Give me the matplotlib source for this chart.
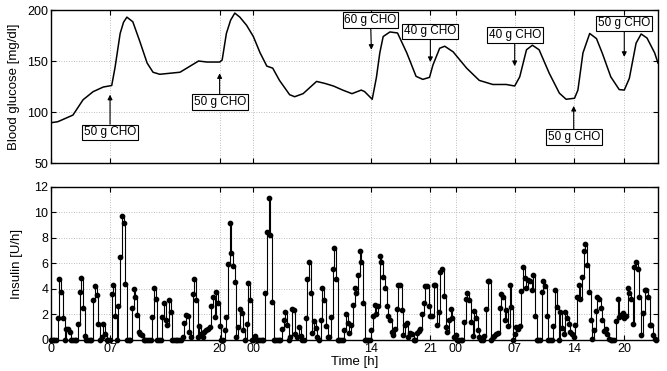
import numpy as np
import matplotlib
matplotlib.use("Agg")
import matplotlib.pyplot as plt

plt.rcParams['font.family'] = ['Liberation Sans', 'DejaVu Sans']

# blood glucose trace (time in h, mg/dl)
bg_t = [0, 0.8, 1.5, 2.6, 3.8, 5.0, 6.2, 7.2, 7.6, 8.2, 8.6, 9.0, 9.7, 10.5, 11.4, 12.1,
        12.9, 15.3, 16.1, 17.5, 18.5, 20.0, 20.3, 20.8, 21.3, 21.8, 22.4, 23.2, 24.0, 24.8,
        25.6, 26.3, 27.1, 28.3, 28.9, 29.9, 31.5, 32.5, 33.5, 34.6, 35.7, 36.8, 37.2, 38.1,
        38.6, 39.0, 39.4, 40.2, 41.1, 42.2, 43.3, 44.1, 44.9, 45.3, 46.1, 46.7, 47.7, 49.3,
        50.8, 52.4, 54.0, 55.0, 55.6, 56.4, 57.1, 57.9, 59.1, 60.3, 61.1, 62.1, 62.5, 63.1,
        63.9, 64.7, 65.4, 66.4, 67.4, 68.0, 68.6, 69.4, 70.0, 70.7, 71.6, 72.0]
bg = [89.5, 90.5, 93, 97, 112, 120, 124.5, 126, 144, 177, 188, 193, 188.5, 170, 148, 139,
      137, 139, 143, 150, 149, 149, 151, 177, 190, 197, 193, 185, 174, 158,
      145, 143, 131, 117, 115, 118, 130, 128, 125.5, 121.5, 118, 121.5, 120, 112.5,
      134, 158, 174, 178.5, 177.5, 158, 135, 132, 134, 146, 162.5, 164.5, 159, 143,
      131, 127, 127, 125.5, 134.5, 161, 165.5, 161, 138, 118.5, 112.5, 113.5, 121.5, 158,
      177, 172, 157.5, 134.5, 122, 121.5, 133, 167.5, 176.5, 172.5, 158, 148]

# meals: label, time of meal, arrow tip level, box position
meal_lbl = ["50 g CHO", "50 g CHO", "60 g CHO", "40 g CHO", "40 g CHO", "50 g CHO", "50 g CHO"]
meal_t = [7, 20, 38, 45, 55, 62, 68]
meal_tip = [117, 138, 161, 149, 145, 106, 154]
meal_box_t = [7, 20, 37.9, 45, 55, 62, 68]
meal_box_y = [80, 110, 190, 179, 175.5, 75.5, 187]

# insulin delivery, one value every 12 min (U/h)
ins_dt = 0.2
insulin = [
    0, 0, 0, 0, 1.7, 4.8, 3.75, 1.7, 0, 0.9, 0.85, 0.6, 0, 0, 0,
    0, 1.25, 3.8, 4.9, 2.5, 0.3, 0, 0, 0, 0, 3.1, 4.2, 3.5, 1.25, 0,
    0.25, 1.25, 0.5, 0, 0, 0, 3.6, 4.3, 1.9, 0, 2.65, 6.5, 9.7, 9.15, 4.4,
    0, 0, 0, 2.5, 4.0, 3.4, 1.95, 0.6, 0.45, 0.4, 0, 0, 0, 0, 0,
    1.8, 4.05, 3.2, 0, 0, 0, 1.8, 2.9, 1.6, 1.2, 3.1, 2.2, 0, 0, 0,
    0, 0, 0, 0.25, 1.3, 1.95, 1.9, 0.65, 0.25, 3.6, 4.8, 3.1, 0.25, 1.1, 0.5,
    0.25, 0.65, 0.8, 0.9, 1.05, 2.7, 3.35, 1.8, 3.75, 2.9, 1.1, 0, 0, 0.8, 1.8,
    5.95, 9.15, 6.85, 5.8, 4.55, 0.2, 1.0, 2.4, 2.15, 0.8, 0, 1.25, 4.5, 3.1, 0,
    0, 0.35, 0, 0, 0, 0, 0, 3.7, 8.5, 11.1, 8.2, 2.95, 0, 0, 0,
    0, 0, 0.85, 1.6, 2.2, 1.2, 0, 0.2, 2.4, 2.35, 0.5, 0.25, 1.0, 0.3, 0,
    0, 1.7, 4.8, 6.15, 3.7, 0.55, 1.45, 0.95, 0.2, 0, 1.6, 4.05, 3.1, 1.1, 0.25,
    0.25, 1.8, 5.55, 7.2, 4.8, 0, 0, 0, 0, 0.8, 2.05, 1.35, 0.55, 1.15, 2.75,
    4.05, 3.7, 5.1, 6.95, 6.1, 2.9, 0, 0, 0, 0, 0.75, 1.9, 2.75, 2.0, 2.65,
    6.6, 6.15, 4.95, 4.05, 2.65, 1.9, 1.6, 0.65, 0.4, 0.85, 2.45, 4.3, 4.35, 2.35, 0.4,
    1.2, 1.3, 0.2, 0.55, 0.45, 0, 0, 0.55, 0.7, 0.85, 2.0, 2.9, 4.2, 4.2, 2.65,
    1.9, 1.9, 4.3, 4.3, 1.2, 2.2, 5.35, 5.6, 3.45, 1.05, 0.65, 1.6, 2.45, 1.7, 0.2,
    0.4, 0, 0, 0, 0, 1.4, 3.25, 3.7, 3.1, 1.4, 0.35, 2.25, 1.75, 0.75, 0.2,
    0, 0, 0.3, 2.4, 4.65, 4.65, 0, 0.2, 0.35, 0.45, 0.55, 2.5, 3.6, 3.4, 1.6,
    2.35, 1.1, 4.3, 2.6, 0, 0.45, 1.05, 0.85, 1.1, 3.85, 5.7, 4.85, 4.05, 4.7, 4.6,
    3.95, 5.1, 1.9, 0, 0, 0, 3.75, 4.6, 4.2, 1.9, 0, 0, 0, 1.1, 3.95,
    2.55, 0, 2.2, 0.95, 0.5, 2.2, 1.7, 1.25, 0.65, 0.45, 0.2, 1.2, 3.4, 4.3, 3.25,
    4.95, 7.0, 7.5, 5.9, 3.75, 1.6, 0.1, 0.75, 2.25, 3.4, 3.25, 2.5, 1.6, 0.7, 0.85,
    0.45, 0.1, 0, 0, 0, 1.5, 3.25, 1.8, 1.95, 2.1, 1.75, 1.9, 4.05, 3.65, 3.25,
    1.25, 5.75, 6.15, 5.55, 3.35, 0.4, 2.15, 3.9, 3.9, 3.4, 1.2, 1.2, 0.4, 0.1, 0,
]

# time axis: hours since start, labelled with clock time
tick_pos = [0, 7, 20, 24, 38, 45, 48, 55, 62, 68]
tick_lbl = ['0', '07', '20', '00', '14', '21', '00', '07', '14', '20']

fig = plt.figure(figsize=(6.67, 3.71), dpi=100)
ax1 = fig.add_axes([0.0765, 0.5606, 0.910, 0.4124])
ax2 = fig.add_axes([0.0765, 0.0836, 0.910, 0.4124])

def style(ax):
    ax.set_xlim(0, 72)
    ax.set_xticks(tick_pos)
    ax.grid(True, color='#a8a8a8', linestyle=(0, (1, 2)), linewidth=0.6)
    ax.set_axisbelow(True)
    ax.tick_params(direction='in', top=True, right=True, length=3.5, width=0.8,
                   labelsize=9, pad=2)
    for s in ax.spines.values():
        s.set_linewidth(1.0)

# top: glucose
ax1.plot(bg_t, bg, color='black', lw=1.1)
style(ax1)
ax1.set_ylim(50, 200)
ax1.set_yticks([50, 100, 150, 200])
ax1.set_xticklabels([])
ax1.set_ylabel('Blood glucose [mg/dl]', fontsize=9.5, labelpad=5)

for lbl, t, tip, bx, by in zip(meal_lbl, meal_t, meal_tip, meal_box_t, meal_box_y):
    ax1.annotate(lbl, xy=(t, tip), xytext=(bx, by), ha='center', va='center', fontsize=8.5,
                 bbox=dict(boxstyle='square,pad=0.15', fc='white', ec='black', lw=0.8),
                 arrowprops=dict(arrowstyle='-|>', color='black', lw=0.8,
                                 mutation_scale=7, shrinkA=0, shrinkB=0))

# bottom: insulin
ins_t = np.arange(len(insulin)) * ins_dt
ax2.plot(ins_t, insulin, color='black', lw=0.8, drawstyle='steps-post',
         marker='o', markersize=3.1, clip_on=False, zorder=3)
style(ax2)
ax2.set_ylim(0, 12)
ax2.set_yticks(range(0, 13, 2))
ax2.set_xticklabels(tick_lbl)
ax2.set_ylabel('Insulin [U/h]', fontsize=9.5, labelpad=8)
ax2.set_xlabel('Time [h]', fontsize=9.5, labelpad=1)

fig.savefig('out.png', dpi=100)
